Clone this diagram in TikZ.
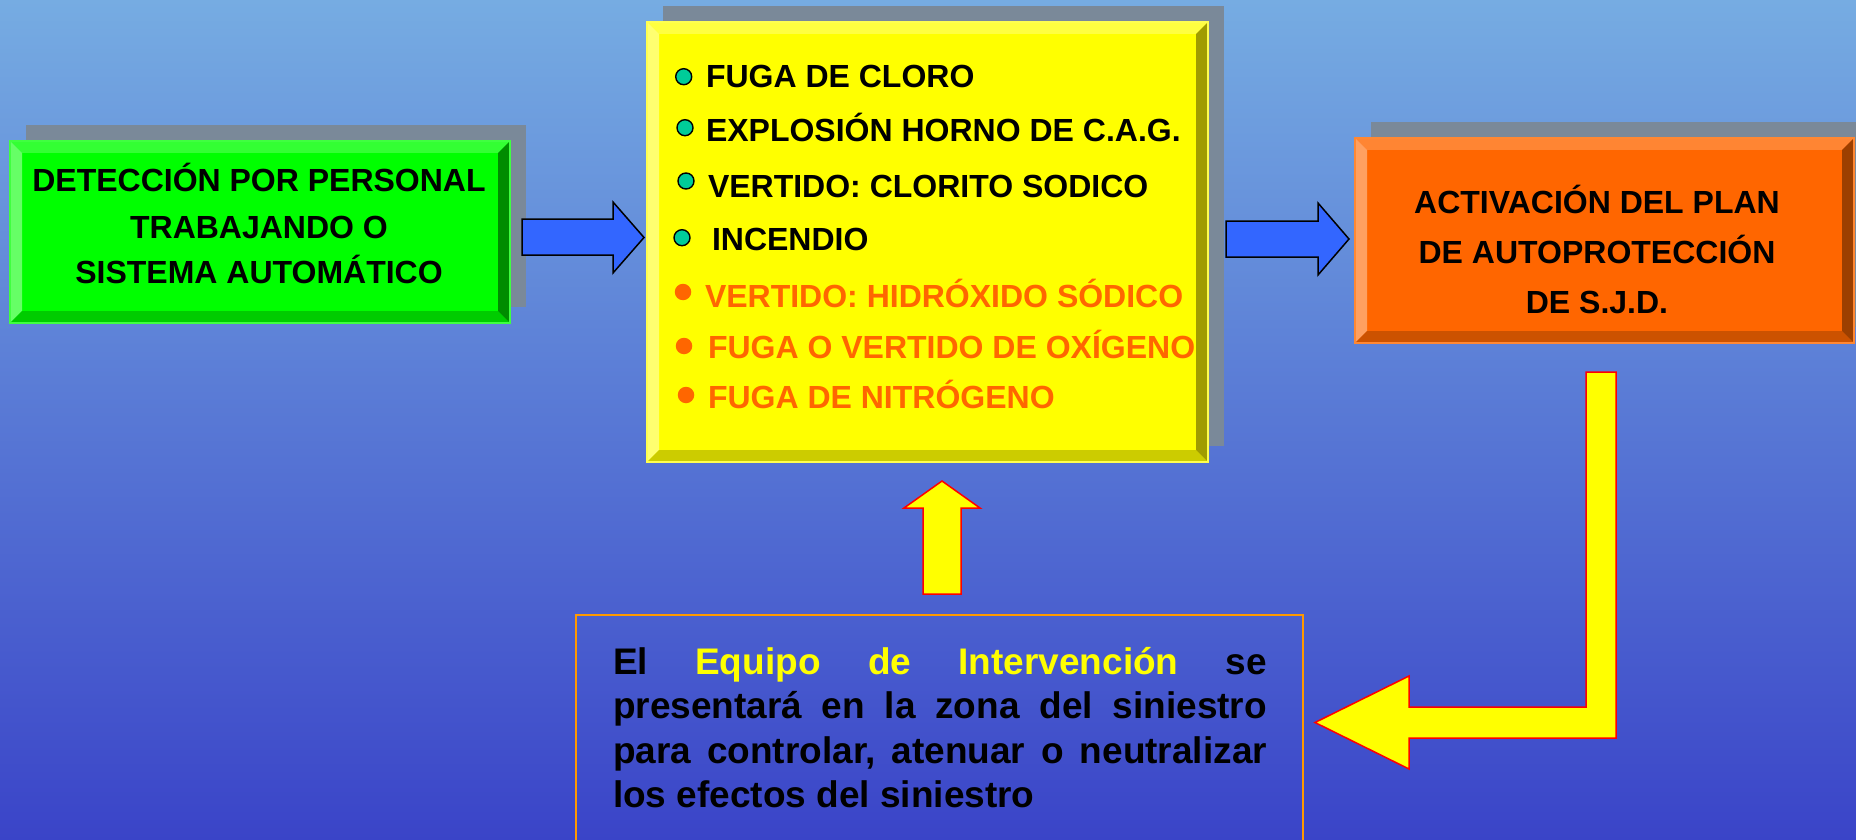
\documentclass[tikz,border=0pt]{standalone}
\usepackage{fontspec}
\setmainfont{Liberation Sans}
\usetikzlibrary{calc}
\definecolor{bgtop}{RGB}{118,172,226}
\definecolor{bgbot}{RGB}{58,68,200}
\definecolor{shadowgray}{RGB}{122,137,153}
\definecolor{gmain}{HTML}{00FF00}
\definecolor{gtop}{HTML}{33FF33}
\definecolor{gleft}{HTML}{66FF66}
\definecolor{gbot}{HTML}{00CC00}
\definecolor{gright}{HTML}{008C00}
\definecolor{gedge}{HTML}{40FF40}
\definecolor{ymain}{HTML}{FFFF00}
\definecolor{ytop}{HTML}{FFFF40}
\definecolor{yleft}{HTML}{FFFF70}
\definecolor{ybot}{HTML}{CCCC00}
\definecolor{yright}{HTML}{A09C00}
\definecolor{yedge}{HTML}{FFFF50}
\definecolor{omain}{HTML}{FF6600}
\definecolor{otop}{HTML}{FF8533}
\definecolor{oleft}{HTML}{FFA060}
\definecolor{obot}{HTML}{CC5200}
\definecolor{oright}{HTML}{9C3F00}
\definecolor{oedge}{HTML}{FF8833}
\definecolor{arrowblue}{HTML}{3366FF}
\definecolor{bullteal}{HTML}{00CC99}
\definecolor{txtorange}{HTML}{FF6600}
\definecolor{infoedge}{HTML}{FF9900}
\newcommand{\bevelbox}[6]{%
  \fill[#3] (#1.north west) -- (#1.north east) -- ($(#1.north east)+(-#2,#2)$) -- ($(#1.north west)+(#2,#2)$) -- cycle;
  \fill[#4] (#1.north west) -- ($(#1.north west)+(#2,#2)$) -- ($(#1.south west)+(#2,-#2)$) -- (#1.south west) -- cycle;
  \fill[#5] (#1.south west) -- ($(#1.south west)+(#2,-#2)$) -- ($(#1.south east)+(-#2,-#2)$) -- (#1.south east) -- cycle;
  \fill[#6] (#1.north east) -- (#1.south east) -- ($(#1.south east)+(-#2,-#2)$) -- ($(#1.north east)+(-#2,#2)$) -- cycle;
}
\tikzset{
  boxbase/.style={inner sep=0pt, outer sep=0pt, rectangle},
  lbl/.style={inner sep=0pt, outer sep=0pt, font=\bfseries\fontsize{32}{38}\selectfont},
  infolbl/.style={inner sep=0pt, outer sep=0pt, font=\bfseries\fontsize{37}{44}\selectfont},
  tealbullet/.style={circle, fill=bullteal, draw=black, line width=1.4pt, minimum size=16pt, inner sep=0pt},
  orangebullet/.style={circle, fill=txtorange, minimum size=16.5pt, inner sep=0pt},
  bluearrow/.style={fill=arrowblue, draw=black, line width=1.5pt, line join=miter},
  yellowarrow/.style={fill=ymain, draw=red, line width=1.5pt, line join=miter},
}
\begin{document}
\begin{tikzpicture}[x=1pt,y=-1pt]
\useasboundingbox (0,0) rectangle (1856,840);
\shade[top color=bgtop, bottom color=bgbot] (0,0) rectangle (1856,840);

% boxes (nodes)
\node[boxbase, minimum width=500pt, minimum height=182pt] (green) at (260,232) {};
\node[boxbase, minimum width=561pt, minimum height=440pt] (yellow) at (927.5,242) {};
\node[boxbase, minimum width=499pt, minimum height=205pt] (orange) at (1604.5,240.5) {};

% shadows
\fill[shadowgray] ($(green.south west)+(16,-16)$) rectangle ($(green.north east)+(16,-16)$);
\fill[shadowgray] ($(yellow.south west)+(16,-16)$) rectangle ($(yellow.north east)+(16,-16)$);
\fill[shadowgray] ($(orange.south west)+(16,-16)$) rectangle ($(orange.north east)+(16,-16)$);

% green box
\fill[gmain] (green.south west) rectangle (green.north east);
\bevelbox{green}{12}{gtop}{gleft}{gbot}{gright}
\draw[gedge, line width=2pt] (green.south west) rectangle (green.north east);
% yellow box
\fill[ymain] (yellow.south west) rectangle (yellow.north east);
\bevelbox{yellow}{12}{ytop}{yleft}{ybot}{yright}
\draw[yedge, line width=2pt] (yellow.south west) rectangle (yellow.north east);
% orange box
\fill[omain] (orange.south west) rectangle (orange.north east);
\bevelbox{orange}{12}{otop}{oleft}{obot}{oright}
\draw[oedge, line width=2pt] (orange.south west) rectangle (orange.north east);

% green text
\node[lbl, anchor=base] (g1) at (259,192) {DETECCIÓN POR PERSONAL};
\node[lbl, anchor=base] (g2) at (259,238) {TRABAJANDO O};
\node[lbl, anchor=base] (g3) at (259,283) {SISTEMA AUTOMÁTICO};

% yellow list
\node[tealbullet] (b1) at (683.7,76.7) {};
\node[tealbullet] (b2) at (685,127.7) {};
\node[tealbullet] (b3) at (686,181) {};
\node[tealbullet] (b4) at (682,237.7) {};
\node[orangebullet] (b5) at (683,292) {};
\node[orangebullet] (b6) at (684,346) {};
\node[orangebullet] (b7) at (686,395) {};
\node[lbl, anchor=base west] (y1) at (706,88) {FUGA DE CLORO};
\node[lbl, anchor=base west] (y2) at (706,142) {EXPLOSIÓN HORNO DE C.A.G.};
\node[lbl, anchor=base west] (y3) at (708,197) {VERTIDO: CLORITO SODICO};
\node[lbl, anchor=base west] (y4) at (712,250) {INCENDIO};
\node[lbl, anchor=base west, text=txtorange] (y5) at (705,307) {VERTIDO: HIDRÓXIDO SÓDICO};
\node[lbl, anchor=base west, text=txtorange] (y6) at (708,358) {FUGA O VERTIDO DE OXÍGENO};
\node[lbl, anchor=base west, text=txtorange] (y7) at (708,408) {FUGA DE NITRÓGENO};

% orange text
\node[lbl, anchor=base] (o1) at (1597,213) {ACTIVACIÓN DEL PLAN};
\node[lbl, anchor=base] (o2) at (1597,263) {DE AUTOPROTECCIÓN};
\node[lbl, anchor=base] (o3) at (1597,313) {DE S.J.D.};

% info box
\node[boxbase, draw=infoedge, line width=2.5pt, minimum width=727pt, minimum height=245pt] (info) at (939.5,737.5) {};
\node[infolbl, anchor=base west] (i1) at (613,674) {\hbox to 654pt{El\hfill\textcolor{ymain}{Equipo}\hfill\textcolor{ymain}{de}\hfill\textcolor{ymain}{Intervención}\hfill se}};
\node[infolbl, anchor=base west] (i2) at (613,718) {\hbox to 654pt{presentará\hfill en\hfill la\hfill zona\hfill del\hfill siniestro}};
\node[infolbl, anchor=base west] (i3) at (613,763) {\hbox to 654pt{para\hfill controlar,\hfill atenuar\hfill o\hfill neutralizar}};
\node[infolbl, anchor=base west] (i4) at (613,807) {los efectos del siniestro};

% blue arrows
\draw[bluearrow] (522,219) -- (613,219) -- (613,202) -- (644,237.5) -- (613,273) -- (613,255) -- (522,255) -- cycle;
\draw[bluearrow] (1226,221) -- (1318,221) -- (1318,203) -- (1349,239) -- (1318,275) -- (1318,257) -- (1226,257) -- cycle;

% yellow up arrow
\draw[yellowarrow] (923,594) -- (923,508) -- (904,508) -- (942,481) -- (980,508) -- (961,508) -- (961,594) -- cycle;

% yellow L arrow
\draw[yellowarrow] (1586,372) -- (1616,372) -- (1616,738) -- (1409,738) -- (1409,769) -- (1315,722.5) -- (1409,676) -- (1409,707) -- (1586,707) -- cycle;
\end{tikzpicture}
\end{document}
